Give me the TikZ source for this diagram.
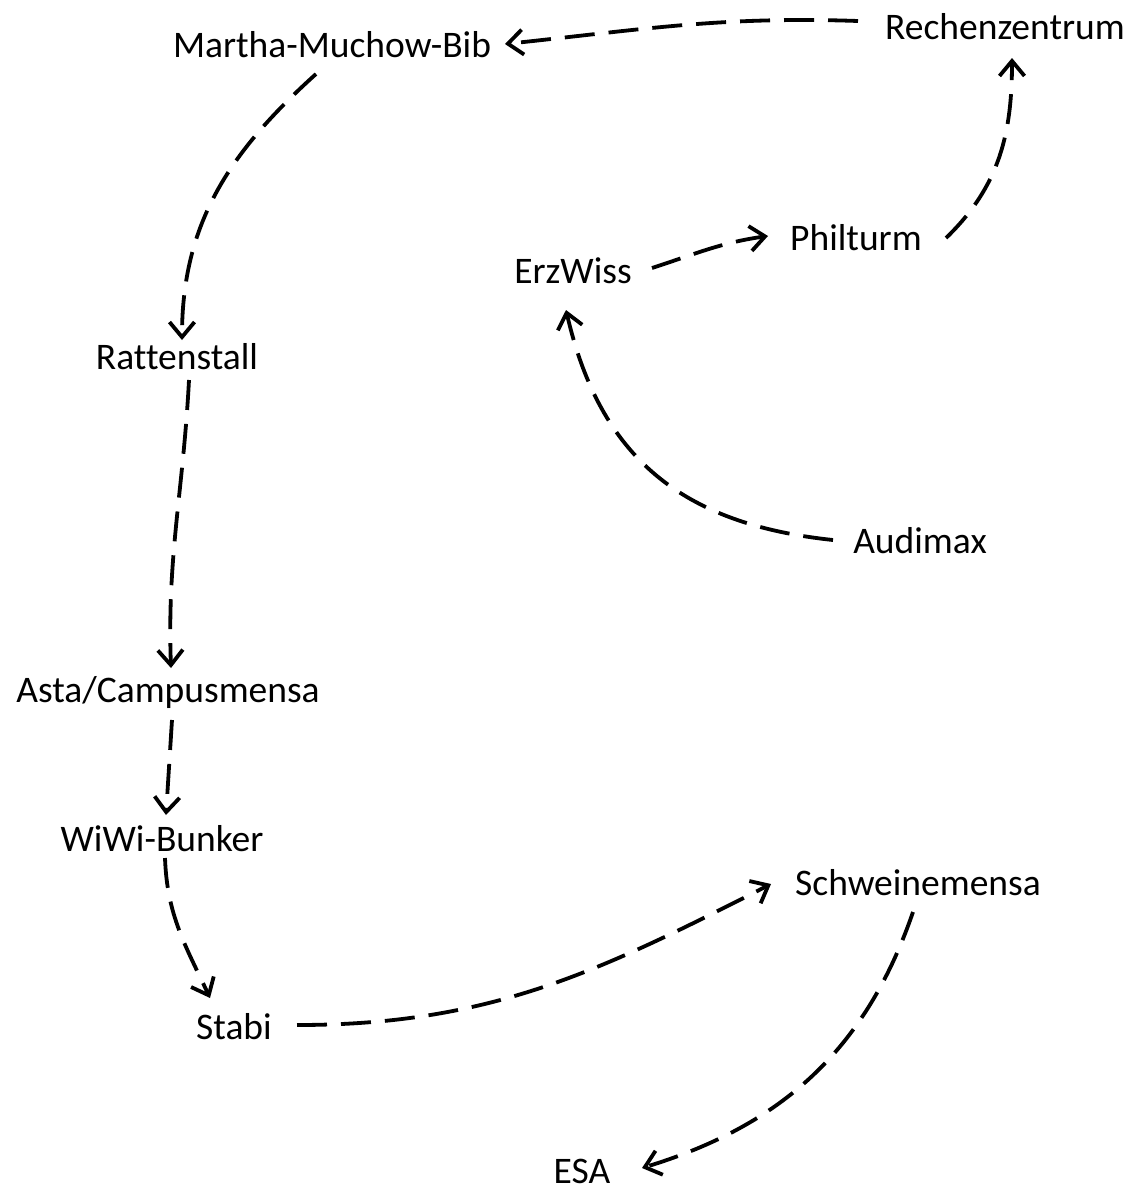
\documentclass[tikz,border=0pt]{standalone}
\usepackage{fontspec}
\setmainfont[Ligatures=NoCommon]{Carlito}
\usetikzlibrary{arrows.meta}
\begin{document}
\begin{tikzpicture}[x=1pt,y=1pt,
  lbl/.style={anchor=base,inner sep=0pt,font=\fontsize{37.5}{45}\selectfont},
  conn/.style={line width=3.8pt,dash pattern=on 30pt off 14pt,
    -{Straight Barb[length=15pt,width=25pt,line width=3.8pt]}}]
\useasboundingbox (0,0) rectangle (1146,-1194);
\node[lbl] (mmb) at (332,-57) {Martha-Muchow-Bib};
\node[lbl] (rz) at (1005,-39) {Rechenzentrum};
\node[lbl] (phil) at (856,-250) {Philturm};
\node[lbl] (erz) at (573,-283) {ErzWiss};
\node[lbl] (rat) at (177,-369) {Rattenstall};
\node[lbl] (aud) at (920,-553) {Audimax};
\node[lbl] (asta) at (168,-702) {Asta/Campusmensa};
\node[lbl] (wiwi) at (162,-851) {WiWi-Bunker};
\node[lbl] (sm) at (918,-895) {Schweinemensa};
\node[lbl] (stabi) at (234,-1039) {Stabi};
\node[lbl] (esa) at (582,-1183) {ESA};

\draw[conn] ([shift={(-147,18)}]rz.base) to[out=178,in=6] ([shift={(173,13)}]mmb.base);
\draw[conn] ([shift={(-16,-17)}]mmb.base) to[out=222,in=90] ([shift={(5,29)}]rat.base);
\draw[conn] ([shift={(12,-11)}]rat.base) to[out=-93,in=92] ([shift={(3,34)}]asta.base);
\draw[conn] ([shift={(4,-18)}]asta.base) -- ([shift={(4,36)}]wiwi.base);
\draw[conn] ([shift={(3,-7)}]wiwi.base) to[out=-88,in=115] ([shift={(-24,41)}]stabi.base);
\draw[conn] ([shift={(63,14)}]stabi.base) to[out=0,in=207] ([shift={(-147,11)}]sm.base);
\draw[conn] ([shift={(-5,-17)}]sm.base) to[out=-109,in=17] ([shift={(60,15)}]esa.base);
\draw[conn] ([shift={(-87,13)}]aud.base) to[out=174,in=-77,looseness=1.1] ([shift={(-7,-27)}]erz.base);
\draw[conn] ([shift={(79,15)}]erz.base) to[out=18,in=188] ([shift={(-88,14)}]phil.base);
\draw[conn] ([shift={(90,12)}]phil.base) to[out=44,in=-90] ([shift={(7,-19)}]rz.base);
\end{tikzpicture}
\end{document}
